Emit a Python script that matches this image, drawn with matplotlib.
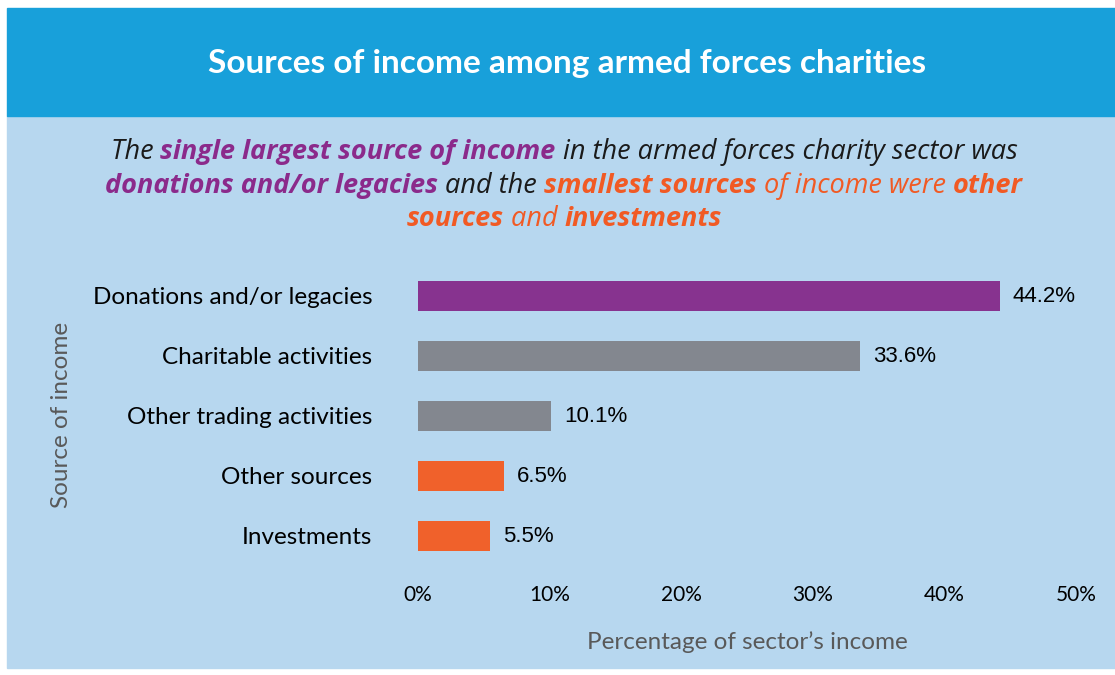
import matplotlib
matplotlib.use("Agg")
import matplotlib.pyplot as plt
from matplotlib.patches import Rectangle

# income sources, top to bottom
categories = ["Donations and/or legacies", "Charitable activities",
              "Other trading activities", "Other sources", "Investments"]
shares = [44.2, 33.6, 10.1, 6.5, 5.5]
bar_colors = ["#87338F", "#83878F", "#83878F", "#F0612B", "#F0612B"]
xticks = [0, 10, 20, 30, 40, 50]

W, H = 1115, 675
fig = plt.figure(figsize=(W / 100, H / 100), dpi=100)
fig.patch.set_facecolor("white")


def fx(x):
    return x / W


def fy(y):
    return 1 - y / H


# background panels
fig.add_artist(Rectangle((fx(7), fy(668)), fx(W - 7), (668 - 116) / H,
                         transform=fig.transFigure, color="#B7D7EF", zorder=0))
fig.add_artist(Rectangle((fx(7), fy(116)), fx(W - 7), (116 - 8) / H,
                         transform=fig.transFigure, color="#18A0DA", zorder=0))

fig.text(fx(567), fy(63), "Sources of income among armed forces charities",
         ha="center", va="center", color="white", fontsize=24,
         fontweight="bold", family="Lato")

# subtitle with coloured runs
BLACK, PURPLE, ORANGE = "#1A1A1A", "#8B2A8B", "#F15A24"
sub_lines = [
    [("The ", BLACK, "normal"), ("single largest source of income", PURPLE, "bold"),
     (" in the armed forces charity sector was", BLACK, "normal")],
    [("donations and/or legacies", PURPLE, "bold"), (" and the ", BLACK, "normal"),
     ("smallest sources", ORANGE, "bold"), (" of income were ", ORANGE, "normal"),
     ("other", ORANGE, "bold")],
    [("sources", ORANGE, "bold"), (" and ", ORANGE, "normal"),
     ("investments", ORANGE, "bold")],
]
sub_y = [152, 186, 219]
sub_size = 19.5
sub_font = "Open Sans"
renderer = fig.canvas.get_renderer()


def run_width(s, weight):
    t = fig.text(0, 0, s + "|", fontsize=sub_size, family=sub_font,
                 style="italic", fontweight=weight)
    bar = fig.text(0, 0, "|", fontsize=sub_size, family=sub_font,
                   style="italic", fontweight=weight)
    w = t.get_window_extent(renderer).width - bar.get_window_extent(renderer).width
    t.remove()
    bar.remove()
    return w


for runs, y in zip(sub_lines, sub_y):
    widths = [run_width(s, wt) for s, _, wt in runs]
    x = 564 - sum(widths) / 2
    for (s, c, wt), w in zip(runs, widths):
        fig.text(fx(x), fy(y), s, ha="left", va="center", color=c,
                 fontsize=sub_size, family=sub_font, style="italic",
                 fontweight=wt)
        x += w

# bar chart
ax = fig.add_axes([fx(418), fy(566), (1076 - 418) / W, 300 / H])
ax.set_facecolor("none")
ypos = range(len(categories))
ax.barh(ypos, shares, height=0.5, color=bar_colors)
for y, v in zip(ypos, shares):
    ax.text(v + 1.0, y, f"{v}%", va="center", ha="left", fontsize=16,
            family="Liberation Sans", color="black")

ax.set_xlim(0, 50)
ax.set_ylim(len(categories) - 0.5, -0.5)
ax.set_yticks(list(ypos))
ax.set_yticklabels(categories, fontsize=17.5, family="Lato")
ax.set_xticks(xticks)
ax.set_xticklabels([f"{t}%" for t in xticks], fontsize=15, family="Lato")
ax.tick_params(axis="both", length=0)
ax.tick_params(axis="y", pad=33)
ax.tick_params(axis="x", pad=14)
for sp in ax.spines.values():
    sp.set_visible(False)

fig.text(fx(747), fy(642), "Percentage of sector\u2019s income", ha="center",
         va="center", fontsize=17.5, family="Lato", color="#595959")
fig.text(fx(61), fy(415), "Source of income", ha="center", va="center",
         rotation=90, fontsize=17.5, family="Lato", color="#595959")

fig.savefig("out.png", dpi=100)
